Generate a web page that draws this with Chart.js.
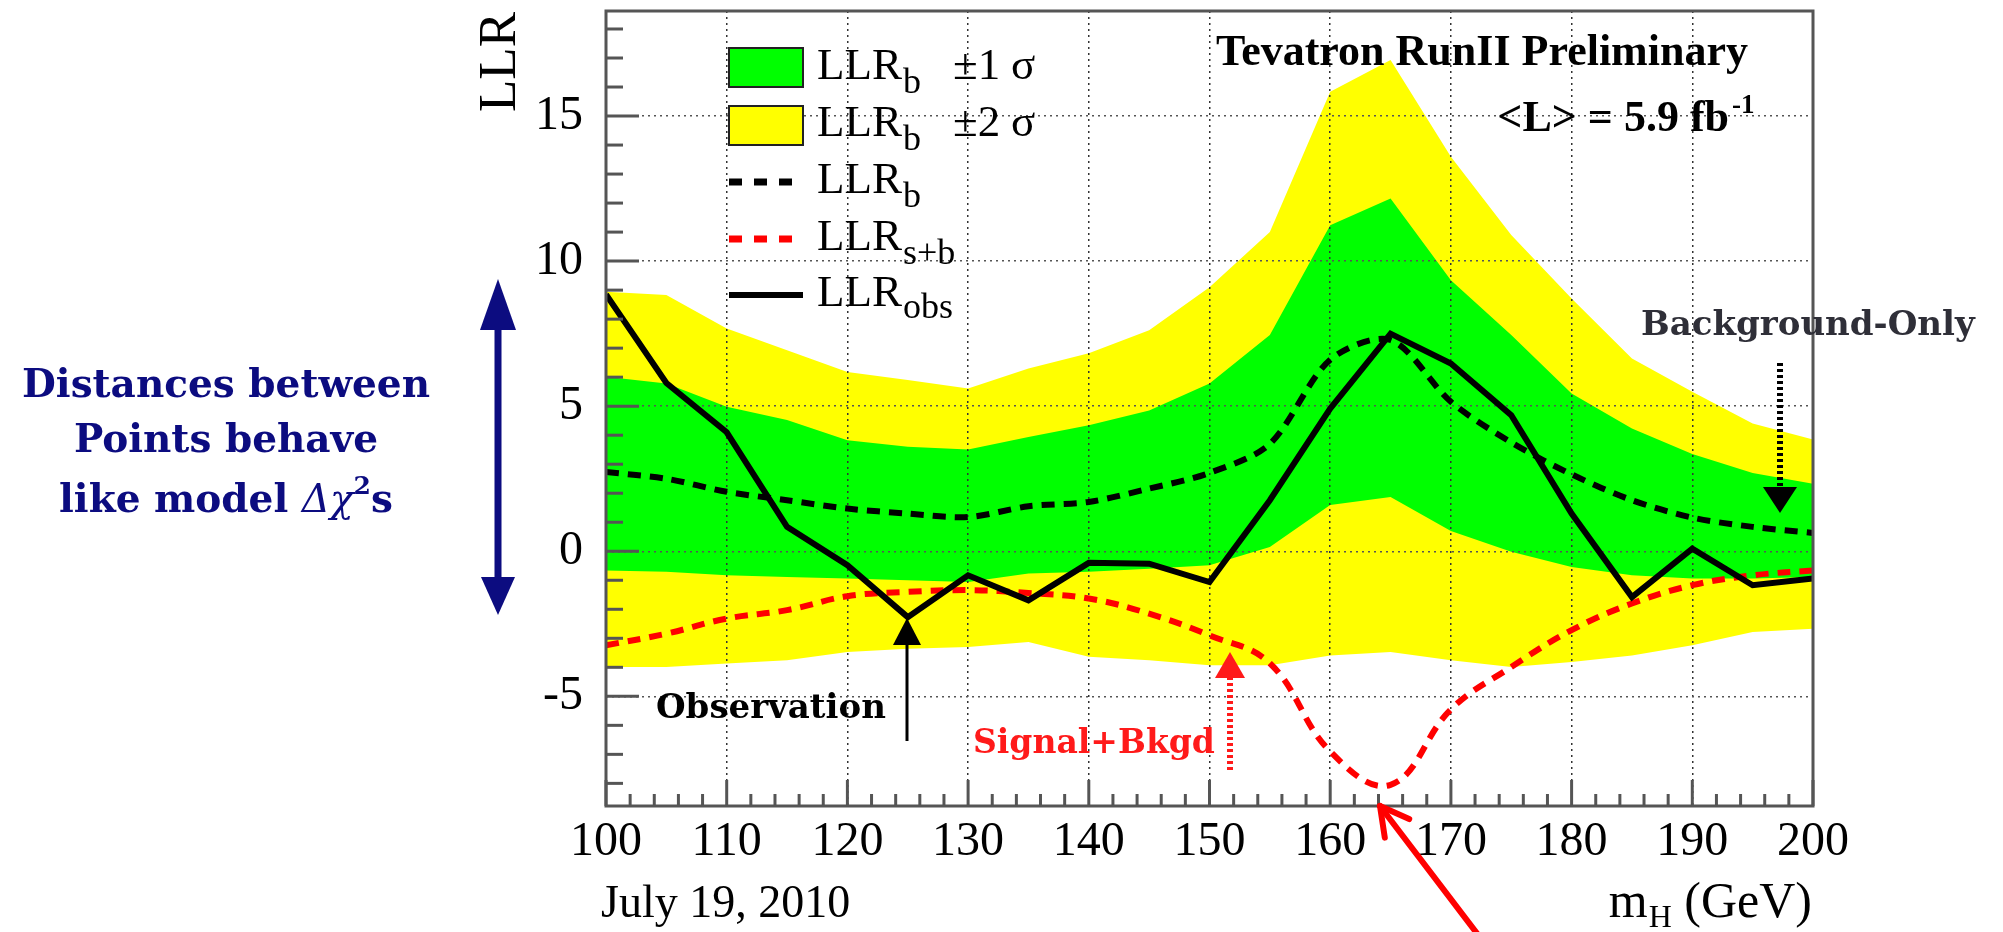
<!DOCTYPE html>
<html>
<head>
<meta charset="utf-8">
<script src="https://cdn.jsdelivr.net/npm/chart.js@4.4.1/dist/chart.umd.min.js"></script>
<style>
html,body{margin:0;padding:0;background:#fff;overflow:hidden}
#wrap{position:relative;width:2003px;height:932px}
canvas{display:block}
</style>
</head>
<body>
<div id="wrap"><canvas id="c" width="2003" height="932"></canvas></div>
<script>
// ---- data ----
const massPoints = [100,105,110,115,120,125,130,135,140,145,150,155,160,165,170,175,180,185,190,195,200];
const llrObs  = [8.85,5.8,4.1,0.84,-0.48,-2.27,-0.83,-1.69,-0.40,-0.43,-1.06,1.76,4.92,7.5,6.47,4.69,1.3,-1.58,0.09,-1.17,-0.94];
const llrB    = [2.73,2.5,2.05,1.76,1.47,1.3,1.18,1.55,1.7,2.16,2.7,3.7,6.6,7.28,5.15,3.75,2.65,1.76,1.16,0.84,0.63];
const llrSB   = [-3.24,-2.84,-2.32,-2.03,-1.55,-1.40,-1.34,-1.44,-1.63,-2.15,-2.9,-3.86,-6.9,-8.05,-5.45,-3.99,-2.72,-1.80,-1.17,-0.83,-0.66];
const band1Up = [6.01,5.78,4.98,4.52,3.83,3.6,3.51,3.94,4.34,4.85,5.78,7.45,11.24,12.16,9.34,7.45,5.44,4.23,3.35,2.7,2.33];
const band1Dn = [-0.66,-0.71,-0.83,-0.89,-0.94,-1.0,-1.06,-0.77,-0.71,-0.6,-0.48,0.15,1.59,1.87,0.7,-0.02,-0.54,-0.83,-0.94,-0.94,-0.89];
const band2Up = [8.94,8.83,7.68,6.93,6.18,5.9,5.61,6.3,6.82,7.62,9.1,11.0,15.84,16.93,13.6,10.9,8.71,6.64,5.5,4.4,3.85];
const band2Dn = [-3.99,-3.99,-3.87,-3.76,-3.47,-3.36,-3.3,-3.13,-3.64,-3.76,-3.93,-3.93,-3.59,-3.47,-3.76,-3.99,-3.82,-3.59,-3.24,-2.78,-2.67];
const xTickLabels = [100,110,120,130,140,150,160,170,180,190,200];
const yTickLabels = [-5,0,5,10,15];

const pts = arr => massPoints.map((m,i)=>({x:m,y:arr[i]}));

const SERIF = "'Liberation Serif','Times New Roman',serif";
const BOLDSERIF = "'DejaVu Serif',serif";

function line(ctx,x1,y1,x2,y2){ctx.beginPath();ctx.moveTo(x1,y1);ctx.lineTo(x2,y2);ctx.stroke();}
function head(ctx,x,tipY,baseY,hw,color){
  ctx.fillStyle=color;ctx.beginPath();ctx.moveTo(x,tipY);ctx.lineTo(x-hw,baseY);ctx.lineTo(x+hw,baseY);ctx.closePath();ctx.fill();
}
function subText(ctx,x,y,main,sub,mainFont,subFont,dy){
  ctx.font=mainFont;ctx.textAlign='left';ctx.textBaseline='alphabetic';
  ctx.fillText(main,x,y);
  const w=ctx.measureText(main).width;
  ctx.font=subFont;ctx.fillText(sub,x+w+1,y+dy);
  return x+w+1+ctx.measureText(sub).width;
}

const framePlugin = {
  id:'frame',
  afterDatasetsDraw(chart){
    const ctx=chart.ctx, a=chart.chartArea, xs=chart.scales.x, ys=chart.scales.y;
    ctx.save();
    ctx.strokeStyle='#555';ctx.lineWidth=3;ctx.setLineDash([]);
    xs.ticks.forEach(t=>{
      const px=xs.getPixelForValue(t.value);
      const len=(t.value%10===0)?26:12;
      line(ctx,px,a.bottom,px,a.bottom-len);
    });
    ys.ticks.forEach(t=>{
      const py=ys.getPixelForValue(t.value);
      const len=(t.value%5===0)?33:17;
      line(ctx,a.left,py,a.left+len,py);
    });
    ctx.strokeRect(a.left,a.top,a.right-a.left,a.bottom-a.top);
    ctx.restore();
  }
};

const annotPlugin = {
  id:'annot',
  afterDraw(chart){
    const ctx=chart.ctx;
    ctx.save();
    // ---- legend ----
    ctx.setLineDash([]);
    ctx.fillStyle='#00ff00';ctx.fillRect(729,48,74,39);
    ctx.strokeStyle='#222';ctx.lineWidth=2;ctx.strokeRect(729,48,74,39);
    ctx.fillStyle='#ffff00';ctx.fillRect(729,106,74,39);
    ctx.strokeRect(729,106,74,39);
    ctx.lineWidth=7;ctx.setLineDash([13,12]);
    ctx.strokeStyle='#000';line(ctx,729,182,792,182);
    ctx.strokeStyle='#ff0000';line(ctx,729,239,792,239);
    ctx.setLineDash([]);ctx.lineWidth=6;ctx.strokeStyle='#000';line(ctx,729,295,803,295);

    ctx.fillStyle='#000';
    const mf='45px '+SERIF, sf='36px '+SERIF;
    subText(ctx,817,79,'LLR','b',mf,sf,14);
    ctx.font=mf;ctx.fillText('\u00b11',953,79);ctx.fillText('\u03c3',1011,79);
    subText(ctx,817,136,'LLR','b',mf,sf,14);
    ctx.font=mf;ctx.fillText('\u00b12',953,136);ctx.fillText('\u03c3',1011,136);
    subText(ctx,817,193,'LLR','b',mf,sf,14);
    subText(ctx,817,250,'LLR','s+b',mf,sf,14);
    subText(ctx,817,306,'LLR','obs',mf,sf,12);

    // ---- header texts ----
    ctx.font='bold 44px '+SERIF;ctx.textAlign='right';
    ctx.fillText('Tevatron RunII Preliminary',1748,65);
    ctx.fillText('<L> = 5.9 fb',1729,131);
    ctx.font='bold 27px '+SERIF;ctx.textAlign='left';
    ctx.fillText('-1',1732,113);

    // ---- axis titles ----
    ctx.save();
    ctx.translate(515,62);ctx.rotate(-Math.PI/2);
    ctx.font='53px '+SERIF;ctx.textAlign='center';ctx.fillStyle='#000';
    ctx.fillText('LLR',0,0);
    ctx.restore();

    ctx.font='50px '+SERIF;
    const wm=ctx.measureText('m').width;
    const wr=ctx.measureText(' (GeV)').width;
    ctx.font='32px '+SERIF;const wh=ctx.measureText('H').width;
    let sx=1812-(wm+wh+wr+1);
    ctx.textAlign='left';ctx.font='50px '+SERIF;ctx.fillText('m',sx,917);
    ctx.font='32px '+SERIF;ctx.fillText('H',sx+wm+1,927);
    ctx.font='50px '+SERIF;ctx.fillText(' (GeV)',sx+wm+1+wh,917);

    ctx.font='46px '+SERIF;ctx.fillText('July 19, 2010',601,917);

    // ---- left annotation ----
    ctx.fillStyle='#0c0c80';ctx.textAlign='center';
    ctx.font='bold 39px '+BOLDSERIF;
    ctx.fillText('Distances between',226,397);
    ctx.fillText('Points behave',226,452);
    const p1='like model ', p2='\u0394\u03c7', p3='2', p4='s';
    ctx.font='bold 39px '+BOLDSERIF;const w1=ctx.measureText(p1).width;const w4=ctx.measureText(p4).width;
    ctx.font='italic 39px '+BOLDSERIF;const w2=ctx.measureText(p2).width;
    ctx.font='bold 25px '+BOLDSERIF;const w3=ctx.measureText(p3).width;
    let lx=226-(w1+w2+w3+w4)/2;
    ctx.textAlign='left';
    ctx.font='bold 39px '+BOLDSERIF;ctx.fillText(p1,lx,512);lx+=w1;
    ctx.font='italic 39px '+BOLDSERIF;ctx.fillText(p2,lx,512);lx+=w2;
    ctx.font='bold 25px '+BOLDSERIF;ctx.fillText(p3,lx,494);lx+=w3;
    ctx.font='bold 39px '+BOLDSERIF;ctx.fillText(p4,lx,512);

    // navy double arrow
    ctx.strokeStyle='#0c0c80';ctx.lineWidth=7;line(ctx,498,320,498,585);
    head(ctx,498,279,330,18,'#0c0c80');
    head(ctx,498,615,577,17,'#0c0c80');

    // ---- Observation ----
    ctx.fillStyle='#000';ctx.font='bold 34px '+BOLDSERIF;
    ctx.fillText('Observation',656,718);
    ctx.strokeStyle='#000';ctx.lineWidth=3;line(ctx,907,741,907,640);
    head(ctx,907,618,645,14,'#000');

    // ---- Signal+Bkgd ----
    ctx.fillStyle='#ff1a1a';ctx.font='bold 33px '+BOLDSERIF;
    ctx.fillText('Signal+Bkgd',973,753);
    ctx.strokeStyle='#ff1a1a';ctx.lineWidth=6;ctx.setLineDash([3,3]);line(ctx,1230,770,1230,676);
    ctx.setLineDash([]);head(ctx,1230,652,678,15,'#ff1a1a');

    // ---- Background-Only ----
    ctx.fillStyle='#2f2f38';ctx.font='bold 34px '+BOLDSERIF;
    ctx.fillText('Background-Only',1641,335);
    ctx.strokeStyle='#000';ctx.lineWidth=6;ctx.setLineDash([3,3]);line(ctx,1780,363,1780,489);
    ctx.setLineDash([]);head(ctx,1780,513,487,17,'#000');

    // ---- big red pointer ----
    const tx=1380, ty=806, fx=1482, fy=940;
    ctx.strokeStyle='#ff0000';ctx.lineWidth=6;ctx.lineCap='round';
    line(ctx,fx,fy,tx,ty);
    const ang=Math.atan2(fy-ty,fx-tx);
    [0.5,-0.5].forEach(d=>{line(ctx,tx,ty,tx+32*Math.cos(ang+d),ty+32*Math.sin(ang+d));});
    ctx.restore();
  }
};

const ds = (label,data,o)=>Object.assign({label,data:pts(data),pointRadius:0,pointHoverRadius:0},o);

const chart = new Chart(document.getElementById('c'),{
  type:'line',
  data:{datasets:[
    ds('LLR obs',llrObs,{borderColor:'#000',borderWidth:6,fill:false,order:0,tension:0}),
    ds('LLR b',llrB,{borderColor:'#000',borderWidth:6,borderDash:[13,9],fill:false,order:1,tension:0.3}),
    ds('LLR s+b',llrSB,{borderColor:'#ff0000',borderWidth:6,borderDash:[13,9],fill:false,order:2,tension:0.4}),
    ds('1 sigma up',band1Up,{borderWidth:0,borderColor:'rgba(0,0,0,0)',backgroundColor:'#00ff00',fill:'+1',order:3}),
    ds('1 sigma down',band1Dn,{borderWidth:0,borderColor:'rgba(0,0,0,0)',fill:false,order:4}),
    ds('2 sigma up',band2Up,{borderWidth:0,borderColor:'rgba(0,0,0,0)',backgroundColor:'#ffff00',fill:'+1',order:5}),
    ds('2 sigma down',band2Dn,{borderWidth:0,borderColor:'rgba(0,0,0,0)',fill:false,order:6})
  ]},
  options:{
    responsive:false,animation:false,devicePixelRatio:1,
    layout:{padding:{left:0,right:190,top:11,bottom:0}},
    plugins:{legend:{display:false},tooltip:{enabled:false},filler:{drawTime:'beforeDraw'}},
    scales:{
      x:{type:'linear',min:100,max:200,
        afterBuildTicks:s=>{const t=[];for(let v=100;v<=200;v+=2)t.push({value:v});s.ticks=t;},
        afterFit:s=>{s.height=126;s.paddingLeft=0;s.paddingRight=0;s.paddingTop=0;s.paddingBottom=0;},
        ticks:{autoSkip:false,maxRotation:0,padding:8,color:'#000',font:{family:SERIF,size:48},
          callback:v=>xTickLabels.includes(v)?String(v):''},
        grid:{drawTicks:false,lineWidth:1.5,
          color:c=>(c.tick&&c.tick.value%10===0&&c.tick.value>100&&c.tick.value<200)?'#333':'rgba(0,0,0,0)'},
        border:{display:false,dash:[2,4]}
      },
      y:{type:'linear',min:-8.78,max:18.62,
        afterBuildTicks:s=>{const t=[];for(let v=-8;v<=18;v++)t.push({value:v});s.ticks=t;},
        afterFit:s=>{s.width=606;s.paddingTop=0;s.paddingBottom=0;s.paddingLeft=0;s.paddingRight=0;},
        ticks:{autoSkip:false,padding:23,color:'#000',font:{family:SERIF,size:48},
          callback:v=>yTickLabels.includes(v)?String(v):''},
        grid:{drawTicks:false,lineWidth:1.5,
          color:c=>(c.tick&&yTickLabels.includes(c.tick.value))?'#555':'rgba(0,0,0,0)'},
        border:{display:false,dash:[2,4]}
      }
    }
  },
  plugins:[framePlugin,annotPlugin]
});
</script>
</body>
</html>
